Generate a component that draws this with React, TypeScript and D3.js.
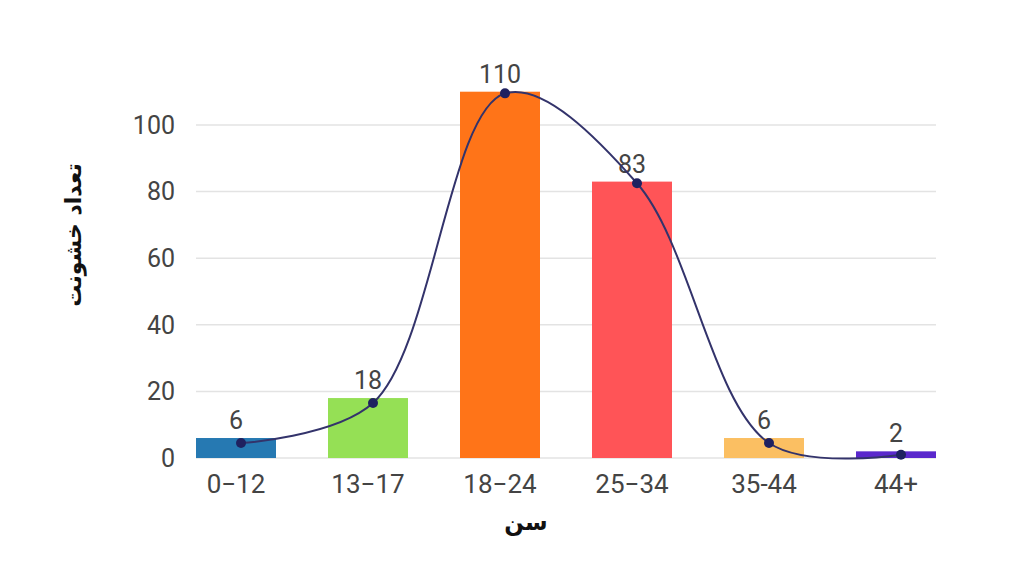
import { useEffect, useRef } from 'react';
import * as d3 from 'd3';

const categories = ['0−12', '13−17', '18−24', '25−34', '35-44', '44+'];
const counts = [6, 18, 110, 83, 6, 2];
const trend = [4.5, 16.5, 109.5, 82.5, 4.5, 1];
const barColors = ['#2679b2', '#95e055', '#ff7418', '#ff5457', '#fbbf62', '#5a28cc'];
const yTicks = [0, 20, 40, 60, 80, 100];

const App = () => {
    const ref = useRef(null);

    useEffect(() => {
        const svg = d3.select(ref.current);
        svg.selectAll('*').remove();

        const width = 1024;
        const height = 576;
        const numFont = 'Roboto, sans-serif';
        const faFont = '"DejaVu Sans", sans-serif';

        svg.attr('viewBox', [0, 0, width, height]);

        const x = d3.scaleBand()
            .domain(categories)
            .range([196, 936])
            .paddingInner(0.394)
            .paddingOuter(0);

        const y = d3.scaleLinear()
            .domain([0, 100])
            .range([458, 125]);

        // grid
        svg.append('g')
            .selectAll('line')
            .data(yTicks)
            .join('line')
            .attr('x1', 196)
            .attr('x2', 936)
            .attr('y1', d => y(d))
            .attr('y2', d => y(d))
            .attr('stroke', '#e3e3e3')
            .attr('stroke-width', 1.5);

        // y tick labels
        svg.append('g')
            .selectAll('text')
            .data(yTicks)
            .join('text')
            .attr('x', 175)
            .attr('y', d => y(d))
            .attr('dy', '0.35em')
            .attr('text-anchor', 'end')
            .style('font', `25px ${numFont}`)
            .attr('fill', '#444')
            .text(d => d);

        // bars
        svg.append('g')
            .selectAll('rect')
            .data(counts)
            .join('rect')
            .attr('x', (d, i) => x(categories[i]))
            .attr('width', x.bandwidth())
            .attr('y', d => y(d))
            .attr('height', d => y(0) - y(d))
            .attr('fill', (d, i) => barColors[i]);

        // value labels
        svg.append('g')
            .selectAll('text')
            .data(counts)
            .join('text')
            .attr('x', (d, i) => x(categories[i]) + x.bandwidth() / 2)
            .attr('y', d => y(d) - 9)
            .attr('text-anchor', 'middle')
            .style('font', `25px ${numFont}`)
            .attr('fill', '#444')
            .text(d => d);

        // x tick labels
        svg.append('g')
            .selectAll('text')
            .data(categories)
            .join('text')
            .attr('x', d => x(d) + x.bandwidth() / 2)
            .attr('y', 493)
            .attr('text-anchor', 'middle')
            .style('font', `26px ${numFont}`)
            .attr('fill', '#444')
            .text(d => d);

        // trend curve
        const px = (i) => x(categories[i]) + x.bandwidth() / 2 + 5;
        const line = d3.line()
            .x((d, i) => px(i))
            .y(d => y(d))
            .curve(d3.curveCatmullRom.alpha(0.5));

        svg.append('path')
            .datum(trend)
            .attr('d', line)
            .attr('fill', 'none')
            .attr('stroke', '#33336b')
            .attr('stroke-width', 2);

        svg.append('g')
            .selectAll('circle')
            .data(trend)
            .join('circle')
            .attr('cx', (d, i) => px(i))
            .attr('cy', d => y(d))
            .attr('r', 5)
            .attr('fill', '#1f2160');

        // axis titles
        svg.append('text')
            .attr('transform', 'translate(73,235) rotate(-90)')
            .attr('text-anchor', 'middle')
            .attr('dy', '0.35em')
            .style('font', `bold 22px ${faFont}`)
            .attr('fill', '#111')
            .text('تعداد خشونت');

        svg.append('text')
            .attr('x', 526)
            .attr('y', 522)
            .attr('dy', '0.35em')
            .attr('text-anchor', 'middle')
            .style('font', `bold 23px ${faFont}`)
            .attr('fill', '#111')
            .text('سن');
    }, []);

    return (
        <svg ref={ref} width={1024} height={576}
            style={{ position: 'absolute', left: 0, top: 0, background: '#fff' }} />
    );
};

export default App;
